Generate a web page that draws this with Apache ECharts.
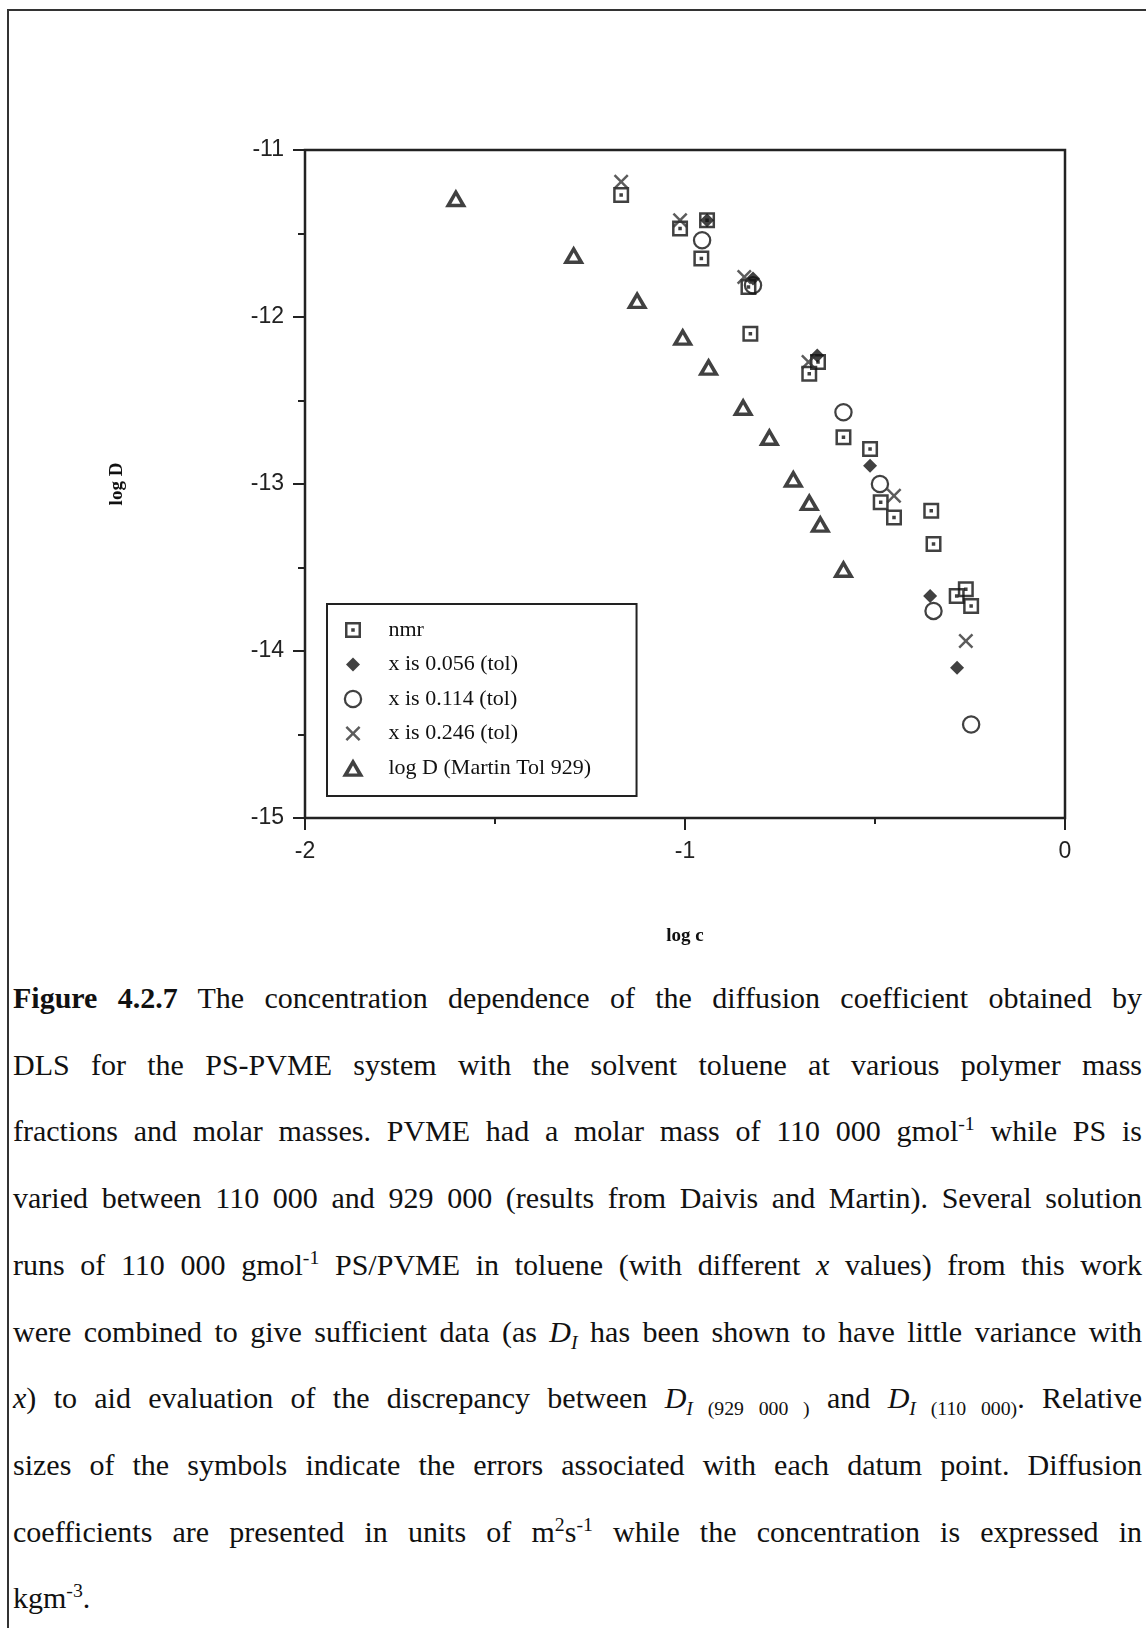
<!DOCTYPE html>
<html>
<head>
<meta charset="utf-8">
<script src="https://cdn.jsdelivr.net/npm/echarts@6/dist/echarts.min.js"></script>
<style>
  html, body { margin: 0; padding: 0; background: #fff; }
  body { width: 1146px; height: 1628px; position: relative; overflow: hidden; }
  #chart { position: absolute; left: 0; top: 0; width: 1146px; height: 960px; }
  #frame { position: absolute; left: 7px; top: 9px; width: 1160px; height: 1640px; z-index: 5;
           pointer-events: none; border-top: 2px solid #333; border-left: 2px solid #333; }
  #caption { position: absolute; left: 13px; top: 965px; width: 1129px;
             font-family: "Liberation Serif", "Times New Roman", serif;
             font-size: 30px; line-height: 66.7px; color: #111; }
  #caption div { text-align: justify; text-align-last: justify; }
  #caption div.last { text-align-last: left; }
  #caption sup, #caption sub { font-size: 0.66em; line-height: 0; }
</style>
</head>
<body>
<div id="chart"></div>
<div id="frame"></div>
<div id="caption">
  <div><b>Figure 4.2.7</b> The concentration dependence of the diffusion coefficient obtained by</div>
  <div>DLS for the PS-PVME system with the solvent toluene at various polymer mass</div>
  <div>fractions and molar masses. PVME had a molar mass of 110 000 gmol<sup>-1</sup> while PS is</div>
  <div>varied between 110 000 and 929 000 (results from Daivis and Martin). Several solution</div>
  <div>runs of 110 000 gmol<sup>-1</sup> PS/PVME in toluene (with different <i>x</i> values) from this work</div>
  <div>were combined to give sufficient data (as <i>D<sub>I</sub></i> has been shown to have little variance with</div>
  <div><i>x</i>) to aid evaluation of the discrepancy between <i>D<sub>I</sub></i><sub> (929 000 )</sub> and <i>D<sub>I</sub></i><sub> (110 000)</sub>. Relative</div>
  <div>sizes of the symbols indicate the errors associated with each datum point. Diffusion</div>
  <div>coefficients are presented in units of m<sup>2</sup>s<sup>-1</sup> while the concentration is expressed in</div>
  <div class="last">kgm<sup>-3</sup>.</div>
</div>
<script>
// [log c, log D] pairs for each data set
const nmr = [
  [-1.168, -11.27], [-1.013, -11.47], [-0.957, -11.65], [-0.942, -11.42],
  [-0.833, -11.82], [-0.828, -12.10], [-0.650, -12.27], [-0.673, -12.34],
  [-0.583, -12.72], [-0.513, -12.79], [-0.485, -13.11], [-0.450, -13.20],
  [-0.352, -13.16], [-0.346, -13.36], [-0.285, -13.67], [-0.261, -13.63],
  [-0.247, -13.73]
];
const tol056 = [
  [-0.942, -11.42], [-0.821, -11.77], [-0.652, -12.23], [-0.513, -12.89],
  [-0.355, -13.67], [-0.284, -14.10]
];
const tol114 = [
  [-0.955, -11.54], [-0.821, -11.81], [-0.583, -12.57], [-0.487, -13.00],
  [-0.346, -13.76], [-0.247, -14.44]
];
const tol246 = [
  [-1.168, -11.19], [-1.013, -11.42], [-0.844, -11.76], [-0.675, -12.27],
  [-0.450, -13.07], [-0.261, -13.94]
];
const martin929 = [
  [-1.603, -11.29], [-1.293, -11.63], [-1.126, -11.90], [-1.006, -12.12],
  [-0.938, -12.30], [-0.847, -12.54], [-0.778, -12.72], [-0.715, -12.97],
  [-0.673, -13.11], [-0.644, -13.24], [-0.583, -13.51]
];

const seriesNames = ['nmr', 'x is 0.056 (tol)', 'x is 0.114 (tol)', 'x is 0.246 (tol)', 'log D (Martin Tol 929)'];
const xTicks = { min: -2, max: 0, step: 1 };
const yTicks = { min: -15, max: -11, step: 1 };

// Marker outlines, all on a common 20x20 box so plot and legend sizes agree
const BOX = 'M0 0M20 20';
const SYM_SQUARE = 'path://' + BOX + 'M3.6 3.6H16.4V16.4H3.6ZM5.6 5.6V14.4H14.4V5.6ZM8.6 8.6H11.4V11.4H8.6Z';
const SYM_DIAMOND = 'path://' + BOX + 'M10 4.4L15.6 10L10 15.6L4.4 10Z';
const SYM_RING = 'path://' + BOX + 'M2.6 10A7.4 7.4 0 1 0 17.4 10A7.4 7.4 0 1 0 2.6 10ZM4.4 10A5.6 5.6 0 1 1 15.6 10A5.6 5.6 0 1 1 4.4 10Z';
const SYM_CROSS = 'path://' + BOX + 'M4 5.4L5.4 4L10 8.6L14.6 4L16 5.4L11.4 10L16 14.6L14.6 16L10 11.4L5.4 16L4 14.6L8.6 10Z';
const SYM_TRIANGLE = 'path://' + BOX + 'M10 2.3L18.6 17L1.4 17ZM10 7.9L6.4 14.3L13.6 14.3Z';

const chart = echarts.init(document.getElementById('chart'), null, { renderer: 'canvas' });

const axisColor = '#222';
const tickFont = { fontFamily: 'Liberation Sans, Arial, sans-serif', fontSize: 23, color: '#222' };
const nameFont = { fontFamily: 'Liberation Serif, Times New Roman, serif', fontWeight: 'bold', fontSize: 19, color: '#111' };
const markSize = 25;

function scatter(name, data, symbol, color) {
  return {
    type: 'scatter', name: name, data: data,
    symbol: symbol, symbolSize: markSize,
    itemStyle: { color: color },
    emphasis: { disabled: true },
    silent: true
  };
}

chart.setOption({
  animation: false,
  backgroundColor: '#fff',
  grid: { left: 305, top: 150, width: 760, height: 668, show: true, borderColor: axisColor, borderWidth: 2.5 },
  xAxis: {
    type: 'value', min: xTicks.min, max: xTicks.max, interval: xTicks.step,
    axisLine: { show: true, onZero: false, lineStyle: { color: axisColor, width: 2 } },
    axisTick: { show: true, length: 12, lineStyle: { color: axisColor, width: 2 } },
    minorTick: { show: true, splitNumber: 2, length: 6, lineStyle: { color: axisColor, width: 2 } },
    splitLine: { show: false },
    axisLabel: Object.assign({ margin: 22 }, tickFont),
    name: 'log c', nameLocation: 'middle', nameGap: 109, nameTextStyle: nameFont
  },
  yAxis: {
    type: 'value', min: yTicks.min, max: yTicks.max, interval: yTicks.step,
    axisLine: { show: true, onZero: false, lineStyle: { color: axisColor, width: 2 } },
    axisTick: { show: true, length: 12, lineStyle: { color: axisColor, width: 2 } },
    minorTick: { show: true, splitNumber: 2, length: 7, lineStyle: { color: axisColor, width: 2 } },
    splitLine: { show: false },
    axisLabel: Object.assign({ margin: 21 }, tickFont),
    name: 'log D', nameLocation: 'middle', nameGap: 178, nameTextStyle: nameFont
  },
  legend: {
    orient: 'vertical', left: 327, top: 604,
    padding: [13.5, 45.5, 15.5, 13.5],
    itemWidth: 61, itemHeight: markSize, itemGap: 9.5,
    borderColor: axisColor, borderWidth: 2, backgroundColor: '#fff',
    selectedMode: false,
    textStyle: { fontFamily: 'Liberation Serif, Times New Roman, serif', fontSize: 22, color: '#111' },
    data: seriesNames
  },
  series: [
    scatter(seriesNames[0], nmr, SYM_SQUARE, '#111'),
    scatter(seriesNames[1], tol056, SYM_DIAMOND, '#111'),
    scatter(seriesNames[2], tol114, SYM_RING, '#111'),
    scatter(seriesNames[3], tol246, SYM_CROSS, '#333'),
    scatter(seriesNames[4], martin929, SYM_TRIANGLE, '#111')
  ]
});
</script>
</body>
</html>
